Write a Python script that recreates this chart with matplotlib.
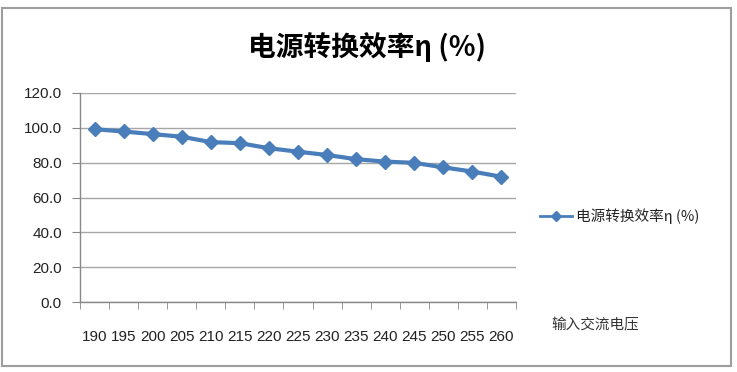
import matplotlib
matplotlib.use("Agg")
import matplotlib.pyplot as plt
from matplotlib.patches import Rectangle
from matplotlib.ticker import FixedLocator

plt.rcParams['font.family'] = ['Noto Sans CJK SC', 'DejaVu Sans']

voltages = [190, 195, 200, 205, 210, 215, 220, 225, 230, 235, 240, 245, 250, 255, 260]
efficiency = [99.2, 97.9, 96.4, 94.9, 91.8, 91.2, 88.3, 86.3, 84.4, 82.0, 80.6, 79.9, 77.3, 74.9, 71.9]
yticks = [0, 20, 40, 60, 80, 100, 120]
series_name = "电源转换效率η (%)"
title = "电源转换效率η (%)"
xlabel = "输入交流电压"

fig = plt.figure(figsize=(7.37, 3.72), dpi=100)
ax = fig.add_axes([80/737, 1-302/372, 436/737, 209/372])

color = '#4A7EBB'
x = list(range(len(voltages)))
line, = ax.plot(x, efficiency, color=color, lw=3, marker='D', ms=7,
                markerfacecolor=color, markeredgecolor=color, label=series_name, zorder=3)

numfont = ['Liberation Sans', 'DejaVu Sans']
ax.set_xlim(-0.5, len(voltages) - 0.5)
ax.set_ylim(0, 120)
ax.set_yticks(yticks)
ax.set_yticklabels([f"{v:.1f}" for v in yticks], fontsize=11, family=numfont)
ax.set_xticks(x)
ax.set_xticklabels([str(v) for v in voltages], fontsize=11, family=numfont)
ax.xaxis.set_minor_locator(FixedLocator([i - 0.5 for i in range(len(voltages) + 1)]))
ax.tick_params(axis='x', which='major', length=0, pad=20, colors='#222222')
ax.tick_params(axis='x', which='minor', length=5, color='#888888')
ax.tick_params(axis='y', length=6, pad=7, colors='#222222')
ax.tick_params(axis='y', color='#888888')

ax.grid(axis='y', color='#A6A6A6', lw=1)
for s in ['top', 'right']:
    ax.spines[s].set_visible(False)
for s in ['left', 'bottom']:
    ax.spines[s].set_color('#888888')
    ax.spines[s].set_linewidth(1)

fig.text(367/737, 1-47/372, title, ha='center', va='center', fontsize=20, fontweight='bold')
fig.text(595/737, 1-325/372, xlabel, ha='center', va='center', fontsize=10.5, color='#333333')

leg = fig.legend(handles=[line], loc='center left', bbox_to_anchor=(540/737, 1-216/372),
                 frameon=False, fontsize=10.5, handlelength=2.2, handletextpad=0.3,
                 borderaxespad=0, borderpad=0)
for t in leg.get_texts():
    t.set_color('#222222')
leg.legend_handles[0].set_markersize(5)
leg.legend_handles[0].set_linewidth(2)

fig.patches.append(Rectangle((2/737, 1-366/372), 729/737, 358/372, transform=fig.transFigure,
                             fill=False, edgecolor='#9E9E9E', lw=1.5))

fig.savefig('out.png', dpi=100)
